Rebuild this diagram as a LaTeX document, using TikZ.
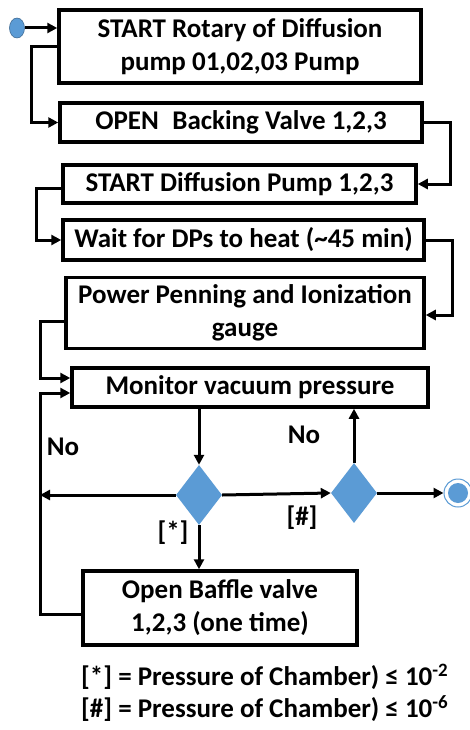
\documentclass[tikz,border=0pt]{standalone}
\usepackage{fontspec}
\setmainfont{Carlito}
\usetikzlibrary{shapes.geometric,arrows.meta,calc}
\definecolor{dblue}{RGB}{91,155,213}
\begin{document}
\begin{tikzpicture}[x=1pt,y=-1pt,
 box/.style={draw,line width=3.5pt,align=center,inner sep=0pt,font=\fontsize{27}{33}\selectfont\bfseries},
 arr/.style={line width=3pt,-{Triangle[length=10pt,width=10pt]}},
 dec/.style={diamond,fill=dblue,draw=none,inner sep=0pt,minimum width=46pt,minimum height=60pt},
 lbl/.style={font=\fontsize{27}{30}\selectfont\bfseries,inner sep=0pt}]
\useasboundingbox (0,0) rectangle (470,730);
\fill[white] (0,0) rectangle (470,730);
\node[box,minimum width=362pt,minimum height=73pt] (b1) at (240,46.5) {START Rotary of Diffusion\\pump 01,02,03 Pump};
\node[box,minimum width=362pt,minimum height=39pt] (b2) at (241,122.5) {OPEN\enspace Backing Valve 1,2,3};
\node[box,minimum width=353pt,minimum height=38pt] (b3) at (239.5,184) {START Diffusion Pump 1,2,3};
\node[box,minimum width=361pt,minimum height=40pt] (b4) at (243.5,240) {Wait for DPs to heat (\textasciitilde 45 min)};
\node[box,minimum width=358pt,minimum height=71pt] (b5) at (245,313) {Power Penning and Ionization\\gauge};
\node[box,minimum width=356pt,minimum height=39pt] (b6) at (250,387.5) {Monitor vacuum pressure};
\node[box,minimum width=274pt,minimum height=74pt] (b7) at (220,608) {Open Baffle valve\\1,2,3 (one time)};
\node[dec] (d1) at (199,495) {};
\node[dec] (d2) at (354,493) {};
\node[ellipse,fill=dblue,draw=dblue!70!black,line width=0.6pt,minimum width=15pt,minimum height=20pt,inner sep=0pt] (st) at (17,28) {};
\node[circle,draw=dblue,line width=1pt,minimum size=28pt,inner sep=0pt] (en) at (458,493) {};
\node[circle,fill=dblue,minimum size=20pt,inner sep=0pt] (enc) at (en.center) {};
\coordinate (lx) at (40,0);
% connectors
\draw[arr] (st.east) -- (st.east -| b1.west);
\draw[arr] (b1.west) -- ++(-26,0) |- (b2.west);
\draw[arr] (b2.east) -- ++(27,0) |- (b3.east);
\draw[arr] ($(b3.west)+(0,4)$) -- ++(-25,0) |- (b4.west);
\draw[arr] (b4.east) -- ++(27,0) |- ($(b5.east)+(0,2)$);
\draw[arr] ($(b5.west)+(0,8)$) -- (lx |- {$(b5.west)+(0,8)$}) |- ($(b6.west)+(0,-9.5)$);
\draw[arr] ($(b7.west)+(0,6)$) -- (lx |- {$(b7.west)+(0,6)$}) |- ($(b6.west)+(0,5.5)$);
\draw[arr] (d1.west) -- (d1.west -| lx);
\draw[arr] (b6.south -| d1.north) -- (d1.north);
\draw[arr] (d1.south) -- (d1.south |- b7.north);
\draw[arr] (d1.east) -- (d2.west);
\draw[arr] (d2.north) -- (d2.north |- b6.south);
\draw[arr] (d2.east) -- (en.west);
% labels
\node[lbl] (no1) at (63,447) {No};
\node[lbl] (no2) at (304,435) {No};
\node[lbl] (s1) at (173,533) {[*]};
\node[lbl] (s2) at (302,518) {[\#]};
\node[lbl,anchor=west] (l1) at (81,677) {[*] = Pressure of Chamber) ≤ 10\textsuperscript{-2}};
\node[lbl,anchor=west] (l2) at (81,709) {[\#] = Pressure of Chamber) ≤ 10\textsuperscript{-6}};
\end{tikzpicture}
\end{document}
